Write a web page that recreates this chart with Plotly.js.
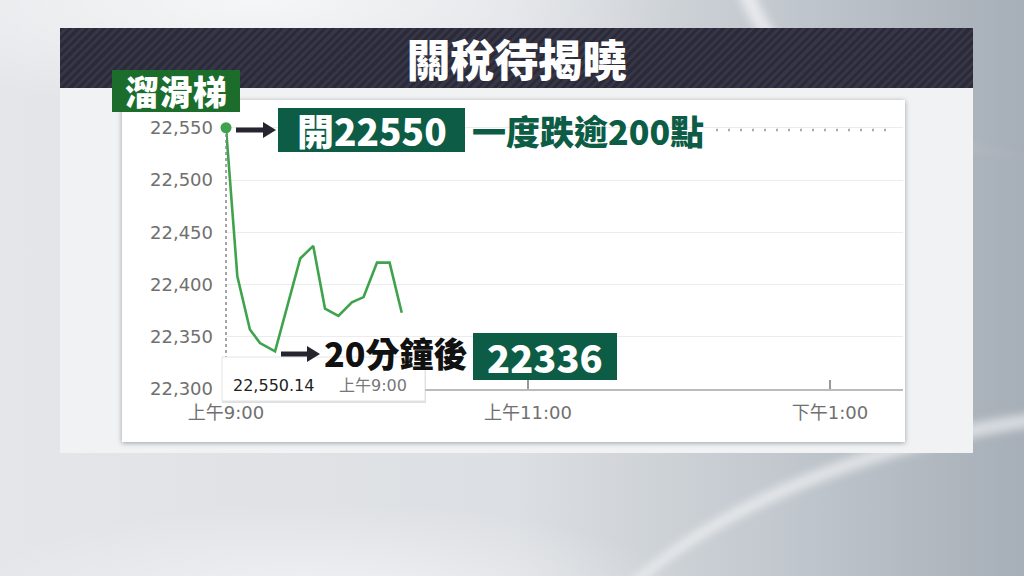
<!DOCTYPE html>
<html>
<head>
<meta charset="utf-8">
<script src="https://cdn.plot.ly/plotly-3.0.1.min.js"></script>
<style>
  html, body { margin:0; padding:0; width:1024px; height:576px; overflow:hidden; }
  #bg { position:absolute; left:0; top:0; width:1024px; height:576px;
    background:
      radial-gradient(ellipse 520px 140px at 330px 600px, rgba(255,255,255,0.55), rgba(255,255,255,0) 70%),
      radial-gradient(ellipse 600px 160px at 260px 0px, rgba(255,255,255,0.7), rgba(255,255,255,0) 70%),
      linear-gradient(90deg, #e4e6e9 0%, #dcdfe3 50%, #c3c9cf 75%, #a6aeb7 100%);
  }
  #sw1 { position:absolute; left:560px; top:420px; width:900px; height:400px; border-radius:50%;
    border-top:14px solid rgba(255,255,255,0.55); filter:blur(4px); transform:rotate(-12deg); }
  #sw2 { position:absolute; left:730px; top:-260px; width:700px; height:420px; border-radius:50%;
    border-left:18px solid rgba(255,255,255,0.6); filter:blur(5px); }
  #header { position:absolute; left:60px; top:28px; width:913px; height:60px;
    background: repeating-linear-gradient(135deg, #2a2a38 0px, #2a2a38 3px, #363646 3px, #363646 6px); }
  #title { position:absolute; left:60px; top:28px; width:913px; height:60px; line-height:60px; text-align:center;
    color:#fff; font-family:'Noto Sans CJK TC', sans-serif; font-weight:900; font-size:44px; }
  #panel { position:absolute; left:60px; top:88px; width:913px; height:365px; background:#f1f2f4; }
  #card { position:absolute; left:122px; top:100px; width:783px; height:342px; background:#fff;
    box-shadow:0 1px 5px rgba(0,0,0,0.35); }
  #tag { position:absolute; left:112px; top:70px; width:128px; height:42px; background:#1c6c2c;
    color:#fff; font-family:'Noto Sans CJK TC', sans-serif; font-weight:900; font-size:34px;
    line-height:42px; text-align:center; }
  #chart { position:absolute; left:0; top:0; width:1024px; height:576px; }
</style>
</head>
<body>
<div id="bg"></div>
<div id="sw1"></div>
<div id="sw2"></div>
<div id="header"></div>
<div id="title">關稅待揭曉</div>
<div id="panel"></div>
<div id="card"></div>
<div id="chart"></div>
<div id="tag">溜滑梯</div>
<script>
// ---- data ----
const DAY = '2025-03-03';
const times = ['09:00:00','09:04:30','09:09:30','09:13:30','09:19:30','09:29:30','09:34:40','09:39:20','09:44:40','09:50:00','09:54:40','10:00:00','10:05:00','10:09:50'];
const values = [22550.14, 22408, 22357, 22344, 22336, 22425, 22437, 22377, 22370, 22383, 22388, 22421, 22421, 22373];
const yTicks = [22300, 22350, 22400, 22450, 22500, 22550];
const xTickTimes = ['09:00', '11:00', '13:00'];
const xTickText = ['上午9:00', '上午11:00', '下午1:00'];
const openLabel = '開22550';
const dropLabel = '一度跌逾200點';
const afterLabel = '20分鐘後';
const lowLabel = '22336';
const tipValue = '22,550.14';
const tipTime = '上午9:00';

// ---- layout geometry (pixels) ----
const L = 226, R = 903, T = 107, B = 389;
const W = 1024, H = 576;
const px = v => (v - L) / (R - L);
const py = v => (B - v) / (B - T);

const x = times.map(t => DAY + ' ' + t);

const trace = {
  x: x, y: values, type: 'scatter', mode: 'lines',
  line: { color: '#3fa34d', width: 2.6 }, hoverinfo: 'skip', cliponaxis: false
};
const dot = {
  x: [x[0]], y: [values[0]], type: 'scatter', mode: 'markers', cliponaxis: false,
  marker: { color: '#3fa34d', size: 11 }, hoverinfo: 'skip'
};

function rect(x0, y0, x1, y1, fill, line) {
  return { type: 'rect', xref: 'paper', yref: 'paper', layer: 'above',
    x0: px(x0), x1: px(x1), y0: py(y0), y1: py(y1),
    fillcolor: fill, line: line || { width: 0 } };
}
function arrow(x0, x1, y) {
  const c = '#25252f';
  return [
    { type: 'line', xref: 'paper', yref: 'paper', layer: 'above',
      x0: px(x0), x1: px(x1 - 10), y0: py(y), y1: py(y), line: { color: c, width: 5 } },
    { type: 'path', xref: 'paper', yref: 'paper', layer: 'above',
      path: `M ${px(x1 - 13)} ${py(y - 8)} L ${px(x1)} ${py(y)} L ${px(x1 - 13)} ${py(y + 8)} Z`,
      fillcolor: c, line: { width: 0 } }
  ];
}

const shapes = [
  { type: 'line', xref: 'paper', yref: 'paper', layer: 'above',
    x0: 0, x1: 0, y0: 0, y1: py(132), line: { color: '#888', width: 1.5, dash: 'dot' } },
  { type: 'line', xref: 'paper', yref: 'paper', layer: 'above',
    x0: px(716), x1: px(896), y0: py(130), y1: py(130), line: { color: '#aaa', width: 2.5, dash: '2px,10px' } },
  rect(222, 359, 426, 403, 'rgba(0,0,0,0.12)'),
  rect(222, 357, 425, 401, '#ffffff', { color: '#e2e2e2', width: 1 }),
  rect(278, 108, 465, 152, '#0d5c45'),
  rect(473, 333, 617, 380, '#0d5c45'),
  ...arrow(236, 276, 130),
  ...arrow(281, 320, 354)
];

const cjk = "'Noto Sans CJK TC', sans-serif";
function ann(text, cx, cy, size, color, extra) {
  return Object.assign({ text: text, xref: 'paper', yref: 'paper', x: px(cx), y: py(cy),
    xanchor: 'center', yanchor: 'middle', showarrow: false,
    font: { family: cjk, size: size, color: color, weight: 900 } }, extra || {});
}

const annotations = [
  ann(tipValue, 273, 385, 16, '#222', { font: { family: 'DejaVu Sans, sans-serif', size: 16, color: '#222' } }),
  ann(tipTime, 373, 385, 16, '#777', { font: { family: 'DejaVu Sans, ' + cjk, size: 16, color: '#777' } }),
  ann(openLabel, 372, 130, 37, '#ffffff'),
  ann(dropLabel, 588, 130, 34, '#0d5c45'),
  ann(afterLabel, 395, 352, 34, '#111111'),
  ann(lowLabel, 545, 356, 38, '#ffffff')
];

const layout = {
  width: W, height: H,
  margin: { l: L, r: W - R, t: T, b: H - B, pad: 0 },
  paper_bgcolor: 'rgba(0,0,0,0)', plot_bgcolor: 'rgba(0,0,0,0)',
  showlegend: false,
  xaxis: {
    type: 'date', range: [DAY + ' 09:00', DAY + ' 13:29'],
    tickvals: xTickTimes.map(t => DAY + ' ' + t), ticktext: xTickText,
    ticks: 'inside', ticklen: 9, tickwidth: 1.5, tickcolor: '#999',
    showline: true, linecolor: '#bbbbbb', linewidth: 2,
    showgrid: false, zeroline: false, fixedrange: true,
    tickfont: { family: 'DejaVu Sans, ' + cjk, size: 18, color: '#707070' },
    ticklabelstandoff: 6
  },
  yaxis: {
    range: [22300, 22570], tickvals: yTicks, tickformat: ',d',
    showgrid: true, gridcolor: '#ececec', gridwidth: 1,
    zeroline: false, showline: false, ticks: '', fixedrange: true,
    tickfont: { family: 'DejaVu Sans, sans-serif', size: 18, color: '#707070' },
    ticklabelstandoff: 12
  },
  shapes: shapes,
  annotations: annotations
};

Plotly.newPlot('chart', [trace, dot], layout, { displayModeBar: false, staticPlot: true });
</script>
</body>
</html>
